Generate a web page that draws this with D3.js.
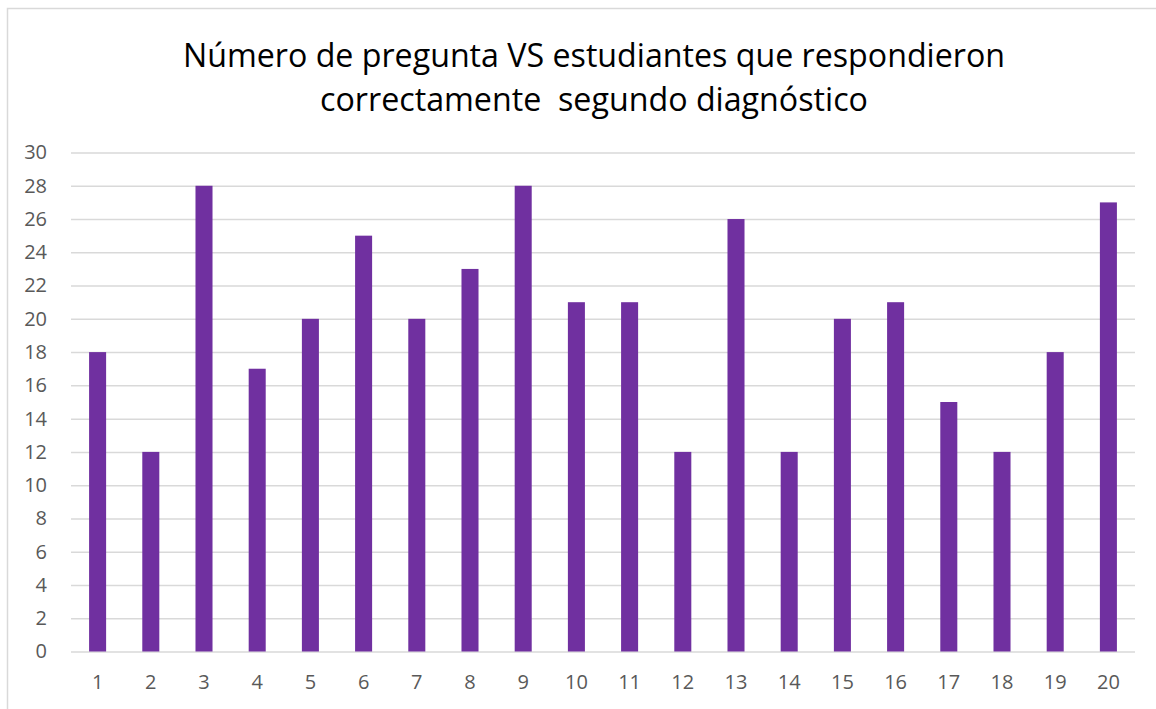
<!DOCTYPE html>
<html>
<head>
<meta charset="utf-8">
<script src="https://cdn.jsdelivr.net/npm/d3@7"></script>
<style>
  html, body { margin: 0; padding: 0; background: #fff; }
  svg { display: block; }
</style>
</head>
<body>
<svg id="chart" width="1156" height="709"></svg>
<script>
const titleLines = ["Número de pregunta VS estudiantes que respondieron", "correctamente  segundo diagnóstico"];
const categories = ["1","2","3","4","5","6","7","8","9","10","11","12","13","14","15","16","17","18","19","20"];
const values = [18,12,28,17,20,25,20,23,28,21,21,12,26,12,20,21,15,12,18,27];
const yTicks = [0,2,4,6,8,10,12,14,16,18,20,22,24,26,28,30];

const svg = d3.select("#chart");
const font = "'Open Sans', 'Noto Sans', sans-serif";

// chart frame
svg.append("rect").attr("x", 7.5).attr("y", 8.5).attr("width", 1200).attr("height", 800)
  .attr("fill", "#fff").attr("stroke", "#d9d9d9").attr("stroke-width", 1.5);

const plot = { left: 71, right: 1135, top: 152.5, bottom: 651.5 };

const x = d3.scaleBand().domain(categories).range([plot.left, plot.right]).paddingInner(0.68).paddingOuter(0.34);
const y = d3.scaleLinear().domain([0, 30]).range([plot.bottom, plot.top]);

// gridlines
const yAxis = d3.axisLeft(y).tickValues(yTicks).tickSize(-(plot.right - plot.left)).tickPadding(24);
const gy = svg.append("g").attr("transform", `translate(${plot.left},0)`).call(yAxis);
gy.select(".domain").remove();
gy.selectAll(".tick line").attr("stroke", "#d9d9d9").attr("stroke-width", 1.5);
gy.selectAll(".tick text").attr("fill", "#595959").style("font-family", font).style("font-size", "20px");

// bars
svg.append("g").selectAll("rect").data(values).join("rect")
  .attr("x", (d, i) => x(categories[i]))
  .attr("width", x.bandwidth())
  .attr("y", d => y(d))
  .attr("height", d => y(0) - y(d))
  .attr("fill", "#7030a0");

// x axis
const xAxis = d3.axisBottom(x).tickSize(0).tickPadding(23);
const gx = svg.append("g").attr("transform", `translate(0,${plot.bottom})`).call(xAxis);
gx.select(".domain").remove();
gx.selectAll(".tick text").attr("fill", "#595959").style("font-family", font).style("font-size", "20px");

// title
const targetWidths = [822, 548];
const baselines = [67, 111];
titleLines.forEach((t, i) => {
  svg.append("text").attr("x", 594).attr("y", baselines[i])
    .attr("text-anchor", "middle").attr("fill", "#000")
    .style("font-family", font).style("font-size", "32px").style("white-space", "pre")
    .text(t)
    .attr("textLength", targetWidths[i]).attr("lengthAdjust", "spacingAndGlyphs");
});
</script>
</body>
</html>
